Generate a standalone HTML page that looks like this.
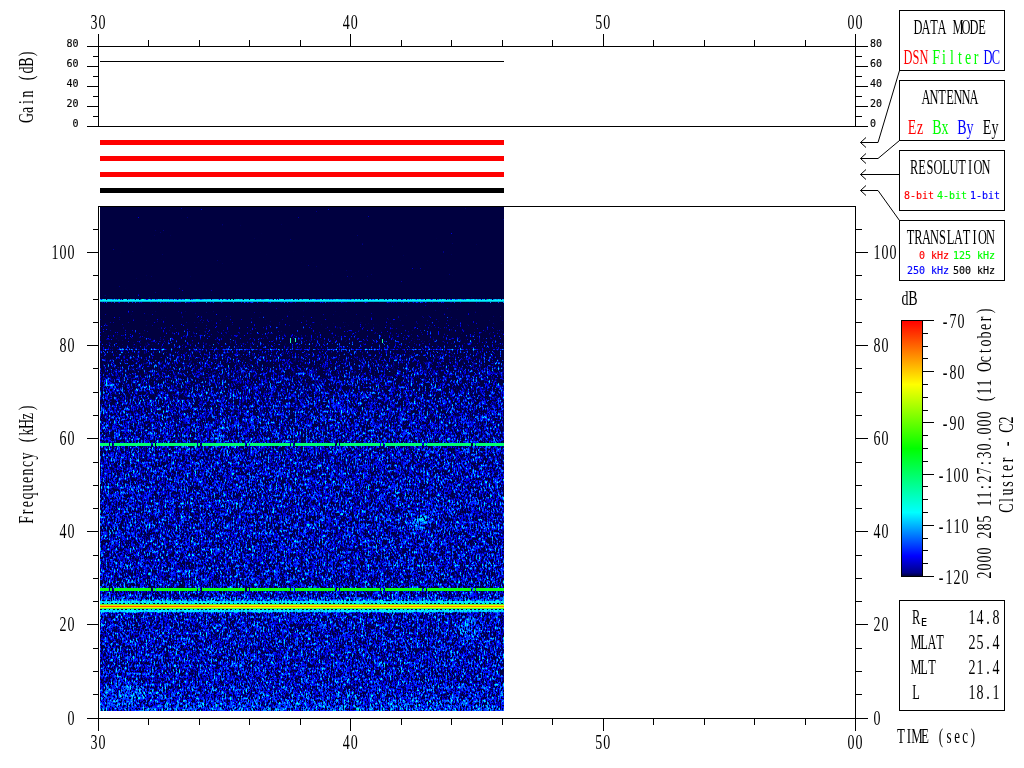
<!DOCTYPE html>
<html lang="en"><head><meta charset="utf-8"><title>Cluster C2 WBD spectrogram</title>
<style>
html,body{margin:0;padding:0;background:#fff;overflow:hidden}
svg{display:block}
text{white-space:pre}
.b{font-family:"Liberation Mono","DejaVu Sans Mono",monospace;font-size:20.0px;stroke:#fff;stroke-width:.15px}
.r{font-family:"Liberation Serif","DejaVu Serif",serif;font-size:20.0px}
.s{font-family:"DejaVu Sans Mono","Liberation Mono",monospace;font-size:10.0px;stroke-width:.15px}
.l{stroke:#000;stroke-width:1;fill:none;shape-rendering:crispEdges}
.d{stroke:#000;stroke-width:1;fill:none}
</style></head><body>
<svg width="1024" height="768" viewBox="0 0 1024 768">
<rect width="1024" height="768" fill="#fff"/>
<defs><linearGradient id="lv" x1="0" y1="0" x2="0" y2="1"><stop offset="0.0000" stop-color="rgb(11,11,11)"/><stop offset="0.1806" stop-color="rgb(13,13,13)"/><stop offset="0.1905" stop-color="rgb(14,14,14)"/><stop offset="0.2143" stop-color="rgb(22,22,22)"/><stop offset="0.2440" stop-color="rgb(32,32,32)"/><stop offset="0.2738" stop-color="rgb(39,39,39)"/><stop offset="0.2817" stop-color="rgb(41,41,41)"/><stop offset="0.2897" stop-color="rgb(43,43,43)"/><stop offset="0.3333" stop-color="rgb(48,48,48)"/><stop offset="0.3829" stop-color="rgb(51,51,51)"/><stop offset="0.4425" stop-color="rgb(53,53,53)"/><stop offset="0.5417" stop-color="rgb(54,54,54)"/><stop offset="0.7798" stop-color="rgb(54,54,54)"/><stop offset="0.9385" stop-color="rgb(55,55,55)"/><stop offset="0.9722" stop-color="rgb(57,57,57)"/><stop offset="1.0000" stop-color="rgb(63,63,63)"/></linearGradient>
<linearGradient id="core" x1="0" y1="0" x2="0" y2="1"><stop offset="0" stop-color="#00ffb0"/><stop offset="0.12" stop-color="#60ff00"/><stop offset="0.3" stop-color="#ffe800"/><stop offset="0.5" stop-color="#ff8c00"/><stop offset="0.7" stop-color="#f0ff00"/><stop offset="0.88" stop-color="#60ff00"/><stop offset="1" stop-color="#00ffb0"/></linearGradient>
<linearGradient id="hot" x1="0" y1="0" x2="1" y2="0"><stop offset="0" stop-color="#ff5000"/><stop offset="0.25" stop-color="#ff6a00"/><stop offset="0.32" stop-color="#ff9000" stop-opacity="0"/></linearGradient>
<filter id="sp" filterUnits="userSpaceOnUse" x="100" y="207" width="404" height="504" color-interpolation-filters="sRGB">
<feTurbulence type="fractalNoise" baseFrequency="0.63 0.37" numOctaves="2" seed="3" result="n"/>
<feColorMatrix in="n" type="matrix" values="1 0 0 0 0  1 0 0 0 0  1 0 0 0 0  0 0 0 0 1" result="g"/>
<feComponentTransfer in="g" result="x"><feFuncR type="table" tableValues="0 0 0 0 0 0 0 0 0 0 0 0 0 .001 .001 .002 .002 .004 .006 .009 .012 .017 .023 .031 .041 .052 .066 .078 .084 .092 .1 .109 .119 .13 .142 .154 .165 .177 .188 .19 .192 .194 .196 .199 .201 .203 .205 .207 .209 .21 .212 .218 .225 .232 .238 .243 .248 .253 .258 .266 .274 .28 .285 .29 .293 .296 .304 .312 .317 .32 .323 .325 .333 .341 .345 .348 .349 .35 .35 .35 .35 .35 .35 .35 .35 .35"/><feFuncG type="table" tableValues="0 0"/><feFuncB type="table" tableValues="0 0"/></feComponentTransfer>
<feTurbulence type="fractalNoise" baseFrequency="0.2 0.13" numOctaves="2" seed="11" result="m"/>
<feColorMatrix in="m" type="matrix" values="1 0 0 0 0  1 0 0 0 0  1 0 0 0 0  0 0 0 0 1" result="lo"/>
<feComposite in="lo" in2="SourceGraphic" operator="arithmetic" k1="0" k2="0.13" k3="1" k4="-0.065" result="sg"/>
<feComposite in="x" in2="sg" operator="arithmetic" k1="0" k2="1" k3="1" k4="0" result="lvl"/>
<feColorMatrix in="lvl" type="matrix" values="1 0 0 0 0  1 0 0 0 0  1 0 0 0 0  0 0 0 0 1" result="l3"/>
<feComponentTransfer in="l3"><feFuncR type="table" tableValues="0 0 0 0 0 0 0 0 0 0 0 0 0 0 0 0 0 0 0 0 0 0 0 0 0 0 0 0 0 0 0 0 0 0 0 0 0 0 0 0 0 0 0 0 0 0 0 0 0 0 0 0 0 0 0 0 0 0 0 0 0 0 0 0 0 0 0 0 0 0 0 0 0 0 0 0 0 0 0 0 0 0 0 0 0 0 0 0 0 0 0 0 0 0 0 0 0 0 0 0 0 0 0 0 0 0 0 0 0 0 0 .04 .08 .12 .16 .2 .24 .28 .32 .36 .4 .44 .48 .52 .56 .6 .64 .68 .72 .76 .8 .84 .88 .92 .96 1 1 1 1 1 1 1 1 1 1 1 1 1 1 1 1 1 1 1 1 1 1 1 1 1 1"/><feFuncG type="table" tableValues="0 0 0 0 0 0 0 0 0 0 0 0 0 0 0 0 0 0 0 0 0 0 0 0 0 0 0 0 0 0 0 0 0 0 0 0 0 0 0 0 0 0 0 0 0 0 0 0 0 0 0 0 0 0 0 0 0 0 0 0 0 0 0 0 0 0 0 0 .029 .086 .143 .2 .257 .314 .371 .429 .486 .543 .6 .657 .714 .771 .829 .886 .943 1 1 1 1 1 1 1 1 1 1 1 1 1 1 1 1 1 1 1 1 1 1 1 1 1 1 1 1 1 1 1 1 1 1 1 1 1 1 1 1 1 1 1 1 1 1 1 1 1 1 1 .96 .92 .88 .84 .8 .76 .72 .68 .64 .6 .56 .52 .48 .44 .4 .36 .32 .28 .24 .2 .16 .12 .08 .04 0"/><feFuncB type="table" tableValues=".251 .251 .251 .251 .251 .251 .251 .251 .251 .251 .251 .251 .251 .251 .251 .251 .251 .251 .251 .251 .251 .251 .251 .251 .251 .251 .251 .251 .251 .251 .251 .251 .251 .251 .251 .251 .251 .251 .251 .251 .251 .251 .251 .251 .251 .251 .251 .251 .251 .251 .251 .251 .251 .251 .251 .251 .251 .251 .251 .251 .251 .351 .451 .551 .65 .75 .85 .95 1 1 1 1 1 1 1 1 1 1 1 1 1 1 1 1 1 1 .96 .92 .88 .84 .8 .76 .72 .68 .64 .6 .56 .52 .48 .44 .4 .36 .32 .28 .24 .2 .16 .12 .08 .04 0 0 0 0 0 0 0 0 0 0 0 0 0 0 0 0 0 0 0 0 0 0 0 0 0 0 0 0 0 0 0 0 0 0 0 0 0 0 0 0 0 0 0 0 0 0 0 0 0 0 0"/></feComponentTransfer>
</filter>
<filter id="bl" x="-50%" y="-50%" width="200%" height="200%"><feGaussianBlur stdDeviation="3"/></filter>
<clipPath id="imc"><rect x="100" y="207" width="404" height="504"/></clipPath></defs>
<g filter="url(#sp)"><g clip-path="url(#imc)">
<rect x="100" y="207" width="404" height="504" fill="url(#lv)"/>
<rect x="100" y="299" width="404" height="1" fill="rgb(78,78,78)"/>
<rect x="100" y="302" width="404" height="1" fill="rgb(45,45,45)"/>
<rect x="100" y="349" width="404" height="1" fill="rgb(56,56,56)"/>
<rect x="100" y="597" width="404" height="2" fill="rgb(59,59,59)"/>
<rect x="100" y="599" width="404" height="1" fill="rgb(64,64,64)"/>
<rect x="100" y="600" width="404" height="1" fill="rgb(69,69,69)"/>
<rect x="100" y="601" width="404" height="2" fill="rgb(81,81,81)"/>
<rect x="100" y="603" width="404" height="1" fill="rgb(38,38,38)"/>
<rect x="100" y="609" width="404" height="1" fill="rgb(38,38,38)"/>
<rect x="100" y="610" width="404" height="2" fill="rgb(81,81,81)"/>
<rect x="100" y="612" width="404" height="1" fill="rgb(64,64,64)"/>
<rect x="380" y="565" width="124" height="1" fill="rgb(61,61,61)"/>
<g fill="#fff" filter="url(#bl)"><ellipse cx="420" cy="522" rx="12" ry="5" transform="rotate(-35 420 522)" opacity="0.11"/><ellipse cx="219" cy="436" rx="6" ry="4" transform="rotate(-45 219 436)" opacity="0.1"/><ellipse cx="108" cy="385" rx="5" ry="6" opacity="0.08"/><ellipse cx="470" cy="628" rx="10" ry="12" opacity="0.05"/><ellipse cx="125" cy="692" rx="28" ry="9" opacity="0.035"/><ellipse cx="335" cy="405" rx="6" ry="6" opacity="0.06"/></g>
</g></g>
<rect x="100" y="300" width="404" height="1.75" fill="#00f4ff"/>
<path d="M290.5 338v5M295.5 338v4M382.5 339v4" stroke="#20ffb0" stroke-width="1" shape-rendering="crispEdges"/>
<path d="M100 444.5H108.5M110 444.5h2M113.5 444.5H151.0M152.5 444.5h2M156.0 444.5H196.5M198 444.5h2M201.5 444.5H245.0M246.5 444.5h2M250.0 444.5H289.5M291 444.5h2M294.5 444.5H335.0M336.5 444.5h2M340.0 444.5H379.5M381 444.5h2M384.5 444.5H422.0M423.5 444.5h2M427.0 444.5H471.0M472.5 444.5h2M476.0 444.5H504" stroke="#00ff70" stroke-width="3" fill="none" shape-rendering="crispEdges"/>
<path d="M100 589.5H108.5M110 589.5h2M113.5 589.5H151.0M152.5 589.5h2M156.0 589.5H196.5M198 589.5h2M201.5 589.5H245.0M246.5 589.5h2M250.0 589.5H289.5M291 589.5h2M294.5 589.5H335.0M336.5 589.5h2M340.0 589.5H379.5M381 589.5h2M384.5 589.5H422.0M423.5 589.5h2M427.0 589.5H471.0M472.5 589.5h2M476.0 589.5H504" stroke="#10ff10" stroke-width="3" fill="none" shape-rendering="crispEdges"/>
<rect x="100" y="601" width="404" height="2" fill="#00ecff" opacity=".7"/>
<rect x="100" y="610" width="404" height="2" fill="#00ecff" opacity=".7"/>
<path d="M100 603.5H504M102 609.5H504" stroke="#00d8ff" stroke-width="1" stroke-dasharray="2.3 1.9" fill="none" shape-rendering="crispEdges"/>
<rect x="100" y="604" width="404" height="5" fill="url(#core)"/>
<rect x="100" y="605.8" width="404" height="1.3" fill="url(#hot)"/>
<path class="l" d="M87 46.5H868M87 126.5H868M98.5 34V127M855.5 34V127M98.5 34V47M98.5 718V731M148.5 40V47M148.5 718V725M199.5 40V47M199.5 718V725M249.5 40V47M249.5 718V725M300.5 40V47M300.5 718V725M350.5 34V47M350.5 718V731M401.5 40V47M401.5 718V725M451.5 40V47M451.5 718V725M502.5 40V47M502.5 718V725M552.5 40V47M552.5 718V725M603.5 34V47M603.5 718V731M653.5 40V47M653.5 718V725M704.5 40V47M704.5 718V725M754.5 40V47M754.5 718V725M805.5 40V47M805.5 718V725M855.5 34V47M855.5 718V731M87 46.5H99M855 46.5H868M93 56.5H99M855 56.5H862M87 66.5H99M855 66.5H868M93 76.5H99M855 76.5H862M87 86.5H99M855 86.5H868M93 96.5H99M855 96.5H862M87 106.5H99M855 106.5H868M93 116.5H99M855 116.5H862M87 126.5H99M855 126.5H868M100 61.5H504M98 206.5H856M87 718.5H868M98.5 206V719M855.5 206V719M87 718.5H99M855 718.5H868M93 694.5H99M855 694.5H862M93 671.5H99M855 671.5H862M93 648.5H99M855 648.5H862M87 624.5H99M855 624.5H868M93 601.5H99M855 601.5H862M93 578.5H99M855 578.5H862M93 555.5H99M855 555.5H862M87 531.5H99M855 531.5H868M93 508.5H99M855 508.5H862M93 485.5H99M855 485.5H862M93 462.5H99M855 462.5H862M87 438.5H99M855 438.5H868M93 415.5H99M855 415.5H862M93 392.5H99M855 392.5H862M93 368.5H99M855 368.5H862M87 345.5H99M855 345.5H868M93 322.5H99M855 322.5H862M93 299.5H99M855 299.5H862M93 275.5H99M855 275.5H862M87 252.5H99M855 252.5H868M93 229.5H99M855 229.5H862M922 320.5H934M922 333.5H928M922 346.5H928M922 358.5H928M922 371.5H934M922 384.5H928M922 397.5H928M922 410.5H928M922 422.5H934M922 435.5H928M922 448.5H928M922 461.5H928M922 474.5H934M922 486.5H928M922 499.5H928M922 512.5H928M922 525.5H934M922 538.5H928M922 550.5H928M922 563.5H928M922 576.5H934"/>
<rect x="100" y="140" width="404" height="5" fill="#ff0000"/>
<rect x="100" y="156" width="404" height="5" fill="#ff0000"/>
<rect x="100" y="172" width="404" height="5" fill="#ff0000"/>
<rect x="100" y="188" width="404" height="5" fill="#000"/>
<rect class="l" x="899.5" y="10.5" width="105" height="60"/>
<rect class="l" x="899.5" y="80.5" width="105" height="60"/>
<rect class="l" x="899.5" y="150.5" width="105" height="60"/>
<rect class="l" x="899.5" y="220.5" width="105" height="60"/>
<rect class="l" x="899.5" y="600.5" width="105" height="110"/>
<path class="d" d="M866 137.5L860.5 142.5L866 147.5M860.5 142.5H878L899.5 70.5M866 153.5L860.5 158.5L866 163.5M860.5 158.5H878L899.5 140.5M866 169.5L860.5 174.5L866 179.5M860.5 174.5H878L899.5 174.5M866 185.5L860.5 190.5L866 195.5M860.5 190.5H878L899.5 220.5"/>
<text class="r" transform="translate(90.00,29.00) scale(0.7000,1)" x="0.7 12.1">30</text>
<text class="r" transform="translate(90.00,749.00) scale(0.7000,1)" x="0.7 12.1">30</text>
<text class="r" transform="translate(342.33,29.00) scale(0.7000,1)" x="0.7 12.1">40</text>
<text class="r" transform="translate(342.33,749.00) scale(0.7000,1)" x="0.7 12.1">40</text>
<text class="r" transform="translate(594.67,29.00) scale(0.7000,1)" x="0.7 12.1">50</text>
<text class="r" transform="translate(594.67,749.00) scale(0.7000,1)" x="0.7 12.1">50</text>
<text class="r" transform="translate(847.00,29.00) scale(0.7000,1)" x="0.7 12.1">00</text>
<text class="r" transform="translate(847.00,749.00) scale(0.7000,1)" x="0.7 12.1">00</text>
<text class="r" transform="translate(67.00,725.00) scale(0.7000,1)" x="0.7">0</text>
<text class="r" transform="translate(873.00,725.00) scale(0.7000,1)" x="0.7">0</text>
<text class="r" transform="translate(59.00,631.00) scale(0.7000,1)" x="0.7 12.1">20</text>
<text class="r" transform="translate(873.00,631.00) scale(0.7000,1)" x="0.7 12.1">20</text>
<text class="r" transform="translate(59.00,538.00) scale(0.7000,1)" x="0.7 12.1">40</text>
<text class="r" transform="translate(873.00,538.00) scale(0.7000,1)" x="0.7 12.1">40</text>
<text class="r" transform="translate(59.00,445.00) scale(0.7000,1)" x="0.7 12.1">60</text>
<text class="r" transform="translate(873.00,445.00) scale(0.7000,1)" x="0.7 12.1">60</text>
<text class="r" transform="translate(59.00,352.00) scale(0.7000,1)" x="0.7 12.1">80</text>
<text class="r" transform="translate(873.00,352.00) scale(0.7000,1)" x="0.7 12.1">80</text>
<text class="r" transform="translate(51.00,259.00) scale(0.7000,1)" x="0.7 12.1 23.6">100</text>
<text class="r" transform="translate(873.00,259.00) scale(0.7000,1)" x="0.7 12.1 23.6">100</text>
<text class="s" x="66.50" y="47.00" stroke="#000">80</text>
<text class="s" x="870.00" y="47.00" stroke="#000">80</text>
<text class="s" x="66.50" y="67.00" stroke="#000">60</text>
<text class="s" x="870.00" y="67.00" stroke="#000">60</text>
<text class="s" x="66.50" y="87.00" stroke="#000">40</text>
<text class="s" x="870.00" y="87.00" stroke="#000">40</text>
<text class="s" x="66.50" y="107.00" stroke="#000">20</text>
<text class="s" x="870.00" y="107.00" stroke="#000">20</text>
<text class="s" x="72.50" y="127.00" stroke="#000">0</text>
<text class="s" x="870.00" y="127.00" stroke="#000">0</text>
<text class="r" transform="translate(33.00,122.00) rotate(-90) scale(0.7000,1)" x="-1.5 12.7 25.8 35.0 48.9 59.5 69.3 79.0 93.8">Gain (dB)</text>
<text class="r" transform="translate(33.00,524.00) rotate(-90) scale(0.7000,1)" x="0.2 13.8 24.1 35.0 46.4 58.4 69.3 81.3 92.1 106.1 116.7 126.4 135.6 149.8 162.4">Frequency (kHz)</text>
<text class="r" transform="translate(991.00,579.00) rotate(-90) scale(0.7000,1)" x="0.7 12.1 23.6 35.0 48.9 57.9 69.3 80.7 94.6 103.6 115.0 128.7 137.9 149.3 162.9 172.1 183.6 197.5 206.4 217.9 229.3 243.2 253.8 263.6 275.0 288.9 295.6 309.8 322.9 332.1 343.6 355.6 368.1 379.5">2000 285 11:27:30.000 (11 October)</text>
<text class="r" transform="translate(1013.00,512.00) rotate(-90) scale(0.7000,1)" x="-1.0 14.4 23.6 36.1 48.7 58.4 71.0 83.2 93.8 106.1 113.3 126.4">Cluster - C2</text>
<text class="r" transform="translate(914.00,34.00) scale(0.6200,1)" x="-0.8 12.1 26.1 37.9 55.6 62.1 76.6 89.6 103.6">DATA MODE</text>
<text class="r" transform="translate(904.00,64.00) scale(0.6200,1)" x="-0.8 13.8 25.0" fill="#ff0000">DSN</text>
<text class="r" transform="translate(932.00,64.00) scale(0.7000,1)" x="0.2 14.4 25.8 37.2 47.0 59.5" fill="#00ff00">Filter</text>
<text class="r" transform="translate(984.00,64.00) scale(0.6200,1)" x="-0.8 12.7" fill="#0000ff">DC</text>
<text class="r" transform="translate(922.00,104.00) scale(0.6200,1)" x="-0.8 12.1 26.1 39.1 50.8 63.7 76.6">ANTENNA</text>
<text class="r" transform="translate(908.00,134.00) scale(0.7000,1)" x="-0.4 12.7" fill="#ff0000">Ez</text>
<text class="r" transform="translate(933.00,134.00) scale(0.7000,1)" x="-1.0 12.1" fill="#00ff00">Bx</text>
<text class="r" transform="translate(958.00,134.00) scale(0.7000,1)" x="-1.0 12.1" fill="#0000ff">By</text>
<text class="r" transform="translate(983.00,134.00) scale(0.7000,1)" x="-0.4 12.1">Ey</text>
<text class="r" transform="translate(910.00,174.00) scale(0.6200,1)" x="-0.2 13.2 26.7 37.9 52.0 63.7 77.8 93.4 102.5 115.4">RESOLUTION</text>
<text class="s" x="904.00" y="199.00" fill="#ff0000" stroke="#ff0000">8-bit</text>
<text class="s" x="937.00" y="199.00" fill="#00ff00" stroke="#00ff00">4-bit</text>
<text class="s" x="970.00" y="199.00" fill="#0000ff" stroke="#0000ff">1-bit</text>
<text class="r" transform="translate(906.50,244.00) scale(0.6200,1)" x="0.3 12.7 25.0 37.9 52.5 64.9 76.6 90.7 106.3 115.4 128.3">TRANSLATION</text>
<text class="s" x="919.00" y="259.00" fill="#ff0000" stroke="#ff0000">0 kHz</text>
<text class="s" x="953.00" y="259.00" fill="#00ff00" stroke="#00ff00">125 kHz</text>
<text class="s" x="907.00" y="274.00" fill="#0000ff" stroke="#0000ff">250 kHz</text>
<text class="s" x="953.00" y="274.00" stroke="#000">500 kHz</text>
<text class="r" transform="translate(901.00,305.00) scale(0.7000,1)" x="0.7 10.5">dB</text>
<text class="r" transform="translate(941.00,328.00) scale(0.7000,1)" x="2.4 12.1 23.6">-70</text>
<text class="r" transform="translate(941.00,379.00) scale(0.7000,1)" x="2.4 12.1 23.6">-80</text>
<text class="r" transform="translate(941.00,430.00) scale(0.7000,1)" x="2.4 12.1 23.6">-90</text>
<text class="r" transform="translate(937.00,482.00) scale(0.7000,1)" x="2.4 12.1 23.6 35.0">-100</text>
<text class="r" transform="translate(937.00,533.00) scale(0.7000,1)" x="2.4 12.1 23.6 35.0">-110</text>
<text class="r" transform="translate(937.00,584.00) scale(0.7000,1)" x="2.4 12.1 23.6 35.0">-120</text>
<text class="r" transform="translate(912.00,624.00) scale(0.6200,1)" x="-0.2">R</text>
<text class="s" x="921.00" y="626.00" stroke="#000">E</text>
<text class="r" transform="translate(912.00,649.00) scale(0.6200,1)" x="-2.4 13.2 25.0 39.1">MLAT</text>
<text class="r" transform="translate(912.00,674.00) scale(0.6200,1)" x="-2.4 13.2 26.1">MLT</text>
<text class="r" transform="translate(912.00,699.00) scale(0.6200,1)" x="0.3">L</text>
<text class="r" transform="translate(968.00,624.00) scale(0.7000,1)" x="0.7 12.1 26.1 35.0">14.8</text>
<text class="r" transform="translate(968.00,649.00) scale(0.7000,1)" x="0.7 12.1 26.1 35.0">25.4</text>
<text class="r" transform="translate(968.00,674.00) scale(0.7000,1)" x="0.7 12.1 26.1 35.0">21.4</text>
<text class="r" transform="translate(968.00,699.00) scale(0.7000,1)" x="0.7 12.1 26.1 35.0">18.1</text>
<text class="r" transform="translate(897.00,743.00) scale(0.6500,1)" x="0.0 15.1 21.9 37.0 52.9 64.4 76.1 87.9 100.2 113.6">TIME (sec)</text>
<defs><linearGradient id="cb" x1="0" y1="0" x2="0" y2="1">
<stop offset="0" stop-color="#ff0000"/><stop offset="0.25" stop-color="#ffff00"/><stop offset="0.5" stop-color="#00ff00"/>
<stop offset="0.75" stop-color="#00ffff"/><stop offset="0.92" stop-color="#0000ff"/><stop offset="0.985" stop-color="#000088"/><stop offset="1" stop-color="#000030"/>
</linearGradient></defs>
<rect x="901.5" y="320.5" width="21" height="256" fill="url(#cb)" stroke="#000" stroke-width="1" shape-rendering="crispEdges"/>
</svg></body></html>
